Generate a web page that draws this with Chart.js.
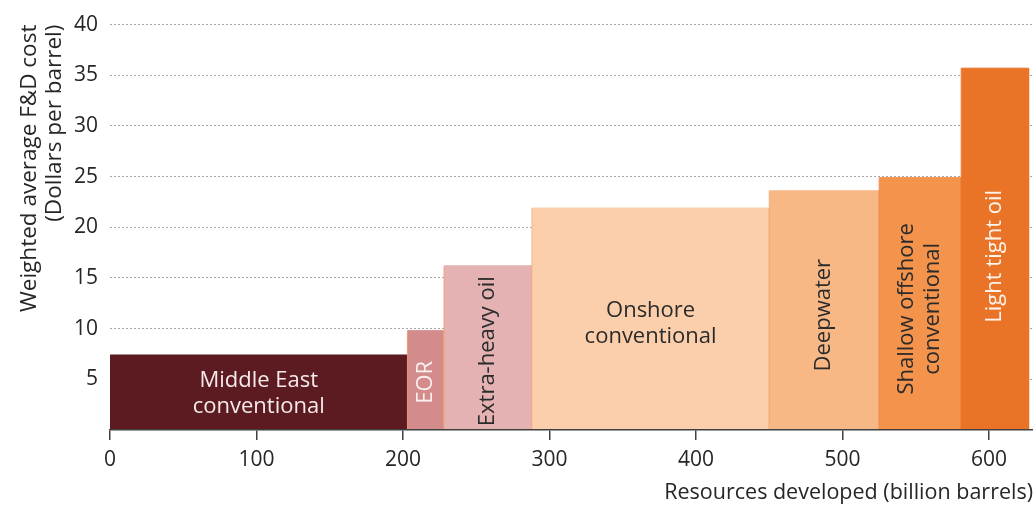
<!DOCTYPE html>
<html>
<head>
<meta charset="utf-8">
<script src="https://cdn.jsdelivr.net/npm/chart.js@4.4.1/dist/chart.umd.min.js"></script>
<style>
    html, body { margin: 0; padding: 0; background: #ffffff; }
</style>
</head>
<body>
<canvas id="costChart" width="1033" height="506"></canvas>
<script>
// Oil supply cost curve - weighted average F&D cost by resource type

// Data
const segmentNames = [
    ['Middle East', 'conventional'],
    ['EOR'],
    ['Extra-heavy oil'],
    ['Onshore', 'conventional'],
    ['Deepwater'],
    ['Shallow offshore', 'conventional'],
    ['Light tight oil']
];
const volumeEdges = [0, 203, 228, 288, 450, 525, 581, 627]; // cumulative, billion barrels
const costs = [7.4, 9.8, 16.2, 21.9, 23.6, 24.9, 35.7];     // dollars per barrel
const xTicks = [0, 100, 200, 300, 400, 500, 600];
const yTicks = [5, 10, 15, 20, 25, 30, 35, 40];

// Styles
const fillColors = ['#5c1b21', '#d48b8b', '#e4b2b2', '#fbcfab', '#f8b886', '#f4934b', '#e97427'];
const edgeColors = ['#5c1b21', '#eb9a6c', '#eda67e', '#f3b58c', '#f4ab7a', '#f08a48', '#e97427'];
const textColors = ['#f6eaea', '#fbf0f0', '#2b2b2b', '#2b2b2b', '#2b2b2b', '#2b2b2b', '#fff4ec'];
const verticalText = [false, true, true, false, true, true, true];

Chart.defaults.font.family = '"Open Sans"';
Chart.defaults.color = '#262626';

// one closed step per resource type, filled down to zero
const datasets = costs.map((cost, i) => ({
    label: segmentNames[i].join(' '),
    data: [
        { x: volumeEdges[i], y: 0 },
        { x: volumeEdges[i], y: cost },
        { x: volumeEdges[i + 1], y: cost },
        { x: volumeEdges[i + 1], y: 0 }
    ],
    showLine: true,
    fill: 'origin',
    backgroundColor: fillColors[i],
    borderColor: edgeColors[i],
    borderWidth: 1,
    pointRadius: 0,
    tension: 0,
    order: costs.length - i,
    segment: {
        borderColor: ctx => ctx.p0DataIndex === 1 ? fillColors[i] : undefined
    }
}));

// Labels inside the blocks
const segmentLabels = {
    id: 'segmentLabels',
    afterDatasetsDraw(chart) {
        const { ctx, scales: { x, y } } = chart;
        ctx.save();
        ctx.font = '22px "Open Sans"';
        ctx.textAlign = 'center';
        ctx.textBaseline = 'middle';
        segmentNames.forEach((lines, i) => {
            const cx = x.getPixelForValue((volumeEdges[i] + volumeEdges[i + 1]) / 2);
            const cy = y.getPixelForValue(costs[i] * 0.48);
            ctx.save();
            ctx.translate(cx, cy);
            if (verticalText[i]) ctx.rotate(-Math.PI / 2);
            ctx.fillStyle = textColors[i];
            lines.forEach((t, k) => {
                ctx.fillText(t, 0, (k - (lines.length - 1) / 2) * 26);
            });
            ctx.restore();
        });
        ctx.restore();
    }
};

new Chart(document.getElementById('costChart'), {
    type: 'scatter',
    data: { datasets: datasets },
    options: {
        responsive: false,
        animation: false,
        layout: { padding: { top: 24, right: 0, bottom: 0, left: 0 } },
        plugins: {
            legend: { display: false },
            tooltip: { enabled: false }
        },
        scales: {
            x: {
                type: 'linear',
                min: 0,
                max: 630,
                afterBuildTicks: scale => { scale.ticks = xTicks.map(v => ({ value: v })); },
                afterFit: scale => { scale.height = 76; },
                ticks: { padding: 7, font: { size: 21 }, color: '#262626' },
                grid: {
                    drawOnChartArea: false,
                    drawTicks: true,
                    tickLength: 10,
                    color: '#404040',
                    lineWidth: 1.5
                },
                border: { display: true, color: '#404040', width: 1.5, z: 1 },
                title: {
                    display: true,
                    text: 'Resources developed (billion barrels)',
                    align: 'end',
                    font: { size: 21.5 },
                    color: '#262626',
                    padding: { top: 0, bottom: 0 }
                }
            },
            y: {
                type: 'linear',
                min: 0,
                max: 40,
                afterBuildTicks: scale => { scale.ticks = yTicks.map(v => ({ value: v })); },
                afterFit: scale => { scale.width = 110; },
                ticks: { padding: 12, font: { size: 21 }, color: '#262626' },
                grid: {
                    drawTicks: false,
                    color: '#a6a6a6',
                    lineWidth: 1
                },
                border: { display: false, dash: [2, 2] },
                title: {
                    display: true,
                    text: ['Weighted average F&D cost', '(Dollars per barrel)'],
                    align: 'end',
                    font: { size: 22.5, lineHeight: 1.11 },
                    color: '#262626',
                    padding: { top: 17, bottom: 0 }
                }
            }
        }
    },
    plugins: [segmentLabels]
});
</script>
</body>
</html>
